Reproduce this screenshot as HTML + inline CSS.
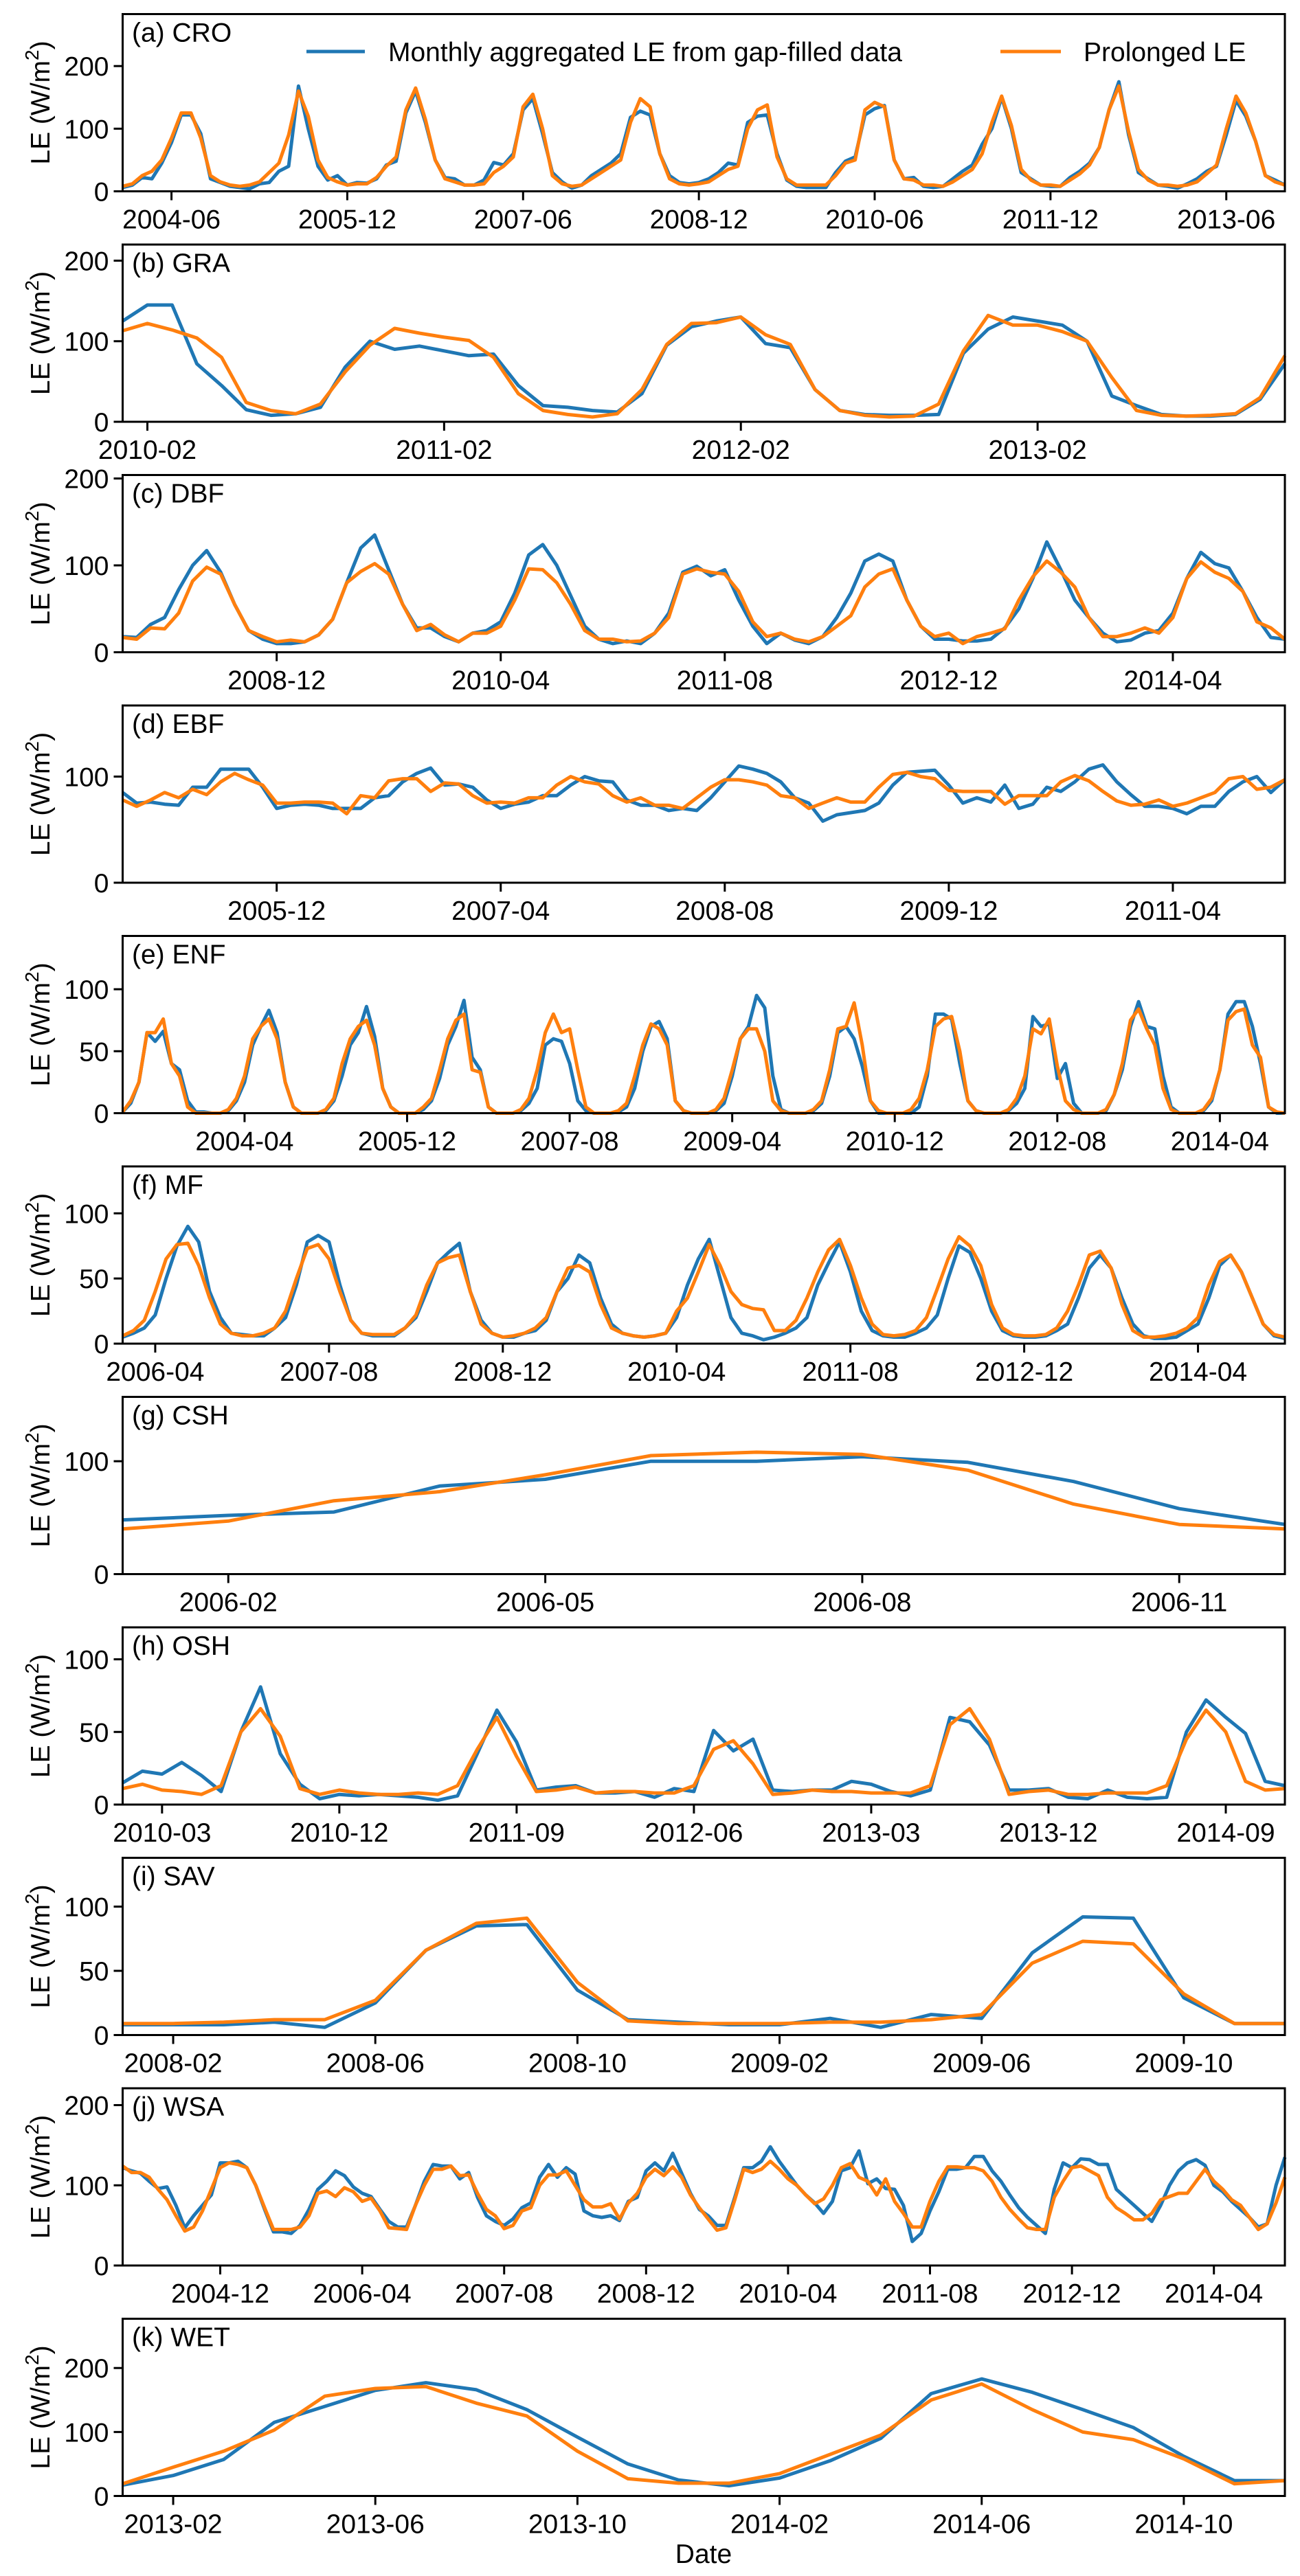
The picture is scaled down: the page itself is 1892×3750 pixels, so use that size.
<!DOCTYPE html>
<html><head><meta charset="utf-8"><style>
html,body{margin:0;padding:0;background:#fff}
svg{display:block;font-family:"Liberation Sans",Arial,sans-serif}
</style></head><body>
<svg id="chart" width="1892" height="3750" viewBox="0 0 1892 3750" xmlns="http://www.w3.org/2000/svg"></svg>
<script>
// ---------- data (per panel) ----------
const titles = ["(a) CRO","(b) GRA","(c) DBF","(d) EBF","(e) ENF","(f) MF","(g) CSH","(h) OSH","(i) SAV","(j) WSA","(k) WET"];
const startMonths = ["2004-01","2010-01","2008-01","2005-01","2003-01","2006-01","2006-01","2010-01","2008-01","2004-01","2013-01"];
const yMaxes = [283,220,204,167,143,136,157,122,138,221,277];
const yTicks = [[0,100,200],[0,100,200],[0,100,200],[0,100],[0,50,100],[0,50,100],[0,100],[0,50,100],[0,50,100],[0,100,200],[0,100,200]];
const xTickLabels = [
 ["2004-06","2005-12","2007-06","2008-12","2010-06","2011-12","2013-06"],
 ["2010-02","2011-02","2012-02","2013-02"],
 ["2008-12","2010-04","2011-08","2012-12","2014-04"],
 ["2005-12","2007-04","2008-08","2009-12","2011-04"],
 ["2004-04","2005-12","2007-08","2009-04","2010-12","2012-08","2014-04"],
 ["2006-04","2007-08","2008-12","2010-04","2011-08","2012-12","2014-04"],
 ["2006-02","2006-05","2006-08","2006-11"],
 ["2010-03","2010-12","2011-09","2012-06","2013-03","2013-12","2014-09"],
 ["2008-02","2008-06","2008-10","2009-02","2009-06","2009-10"],
 ["2004-12","2006-04","2007-08","2008-12","2010-04","2011-08","2012-12","2014-04"],
 ["2013-02","2013-06","2013-10","2014-02","2014-06","2014-10"]
];
const croBlue = [6,10,22,20,45,78,122,122,92,20,14,8, 6,4,12,14,32,40,168,100,40,18,25,10, 14,13,20,42,48,125,160,110,50,22,20,10, 10,18,46,42,60,130,148,92,30,15,5,10, 25,35,45,60,118,128,122,60,25,14,12,14, 20,30,45,42,110,120,122,60,18,8,6,6, 6,30,48,55,122,132,137,50,20,22,8,6, 8,20,32,42,75,100,150,100,30,20,10,8, 8,22,32,45,70,130,175,90,30,20,10,8, 5,12,20,32,40,90,145,120,80,25,18,10];
const croOrange = [8,12,25,32,50,85,125,125,85,25,15,10, 8,10,15,30,45,90,160,120,50,22,15,10, 12,12,22,40,55,130,165,115,50,20,15,10, 10,12,30,40,55,135,155,100,25,12,8,10, 20,30,40,50,110,148,135,60,20,12,10,12, 15,25,35,40,100,130,138,55,20,10,10,10, 10,25,45,50,130,142,135,50,20,18,10,10, 8,15,25,35,60,110,152,105,35,18,10,10, 8,18,28,42,70,130,168,95,35,18,10,10, 8,10,15,28,42,100,152,125,80,25,15,10];
const graBlue = [125,145,145,72,45,15,8,10,18,68,100,90, 94,88,82,84,45,20,18,14,12,35,95,118, 125,130,97,92,40,14,9,8,8,9,85,115, 130,125,120,100,32,20,9,7,7,9,28,72];
const graOrange = [113,122,114,104,80,24,14,10,22,62,95,116, 110,105,101,80,35,14,9,6,10,40,96,122, 123,130,108,96,40,14,8,6,7,22,88,132, 120,120,112,100,55,14,8,7,8,10,30,82];
const dbfBlue = [18,17,32,40,72,100,117,92,55,25,15,10, 10,12,20,38,80,120,135,95,55,28,28,18, 12,22,25,35,68,112,124,100,65,30,15,10, 13,10,22,45,92,99,88,95,60,30,10,22, 14,10,18,40,68,105,113,105,60,30,15,15, 13,13,15,28,50,85,127,95,60,40,22,12, 14,22,25,45,85,115,102,97,70,40,17,15];
const dbfOrange = [17,15,28,27,45,82,98,90,55,25,18,12, 14,12,20,38,80,93,102,90,55,25,32,20, 12,22,22,30,60,96,95,80,55,25,15,15, 12,13,22,40,90,96,92,90,70,35,18,22, 15,12,18,30,42,75,90,96,60,30,18,22, 10,18,22,27,60,87,105,92,75,40,18,18, 22,28,22,40,85,104,92,85,70,35,28,15];
const ebfBlue = [85,75,76,74,73,90,90,107,107,107,90,70, 73,74,73,70,70,70,80,82,95,103,108,92, 93,90,78,70,74,76,82,82,92,100,96,95, 78,73,73,68,70,68,80,95,110,107,103,95, 80,75,58,64,66,68,75,92,104,105,106,92, 75,80,76,92,70,74,90,86,95,107,111,95, 83,72,72,70,65,72,72,86,95,100,85,97];
const ebfOrange = [78,72,78,85,80,88,83,95,103,97,92,75, 75,76,76,75,65,82,80,96,98,98,86,94, 93,82,75,76,75,80,80,92,100,95,93,82, 76,80,73,73,70,80,90,97,97,95,92,82, 80,70,75,80,76,76,90,102,104,100,98,87, 86,86,86,74,82,82,82,95,101,96,86,77, 73,74,78,72,75,80,85,98,100,88,90,97];
const enfBlue = [1,8,25,65,58,66,40,35,10,1,1,0, 0,2,10,25,55,70,83,65,25,5,0,0, 0,2,10,30,55,65,86,62,20,5,0,0, 0,3,10,28,55,70,91,45,35,5,0,0, 0,2,8,20,55,60,58,40,10,2,0,0, 0,1,5,20,50,70,74,60,10,2,0,0, 0,2,8,30,60,70,95,85,30,3,0,0, 0,2,8,30,65,70,60,38,10,0,0,0, 0,0,5,30,80,80,76,40,10,2,0,0, 0,2,8,20,78,70,72,28,40,8,0,0, 0,2,15,35,70,90,70,68,30,5,0,0, 0,2,10,35,80,90,90,70,40,5,0,0];
const enfOrange = [1,10,25,65,65,76,40,30,5,0,0,0, 0,3,12,30,60,70,76,60,25,5,0,0, 0,3,12,40,60,70,75,55,20,5,0,0, 0,5,12,35,60,75,80,35,33,5,0,0, 0,3,12,35,65,80,65,68,35,5,0,0, 0,2,8,30,55,72,68,55,10,2,0,0, 0,3,12,35,60,68,68,50,10,2,0,0, 0,3,10,35,68,70,89,55,10,2,0,0, 0,3,12,35,70,76,78,50,10,2,0,0, 0,3,12,30,68,64,76,38,10,3,0,0, 0,3,15,40,75,84,68,55,20,3,0,0, 0,3,12,35,75,82,84,55,45,5,1,0];
const mfBlue = [5,8,12,22,50,75,90,78,40,20,8,7, 6,6,12,20,45,78,83,78,45,18,8,6, 6,6,12,20,40,62,70,77,40,18,8,5, 5,8,10,18,40,50,68,62,35,15,8,6, 5,6,8,20,45,65,80,50,20,8,6,3, 5,8,12,20,45,62,78,55,25,10,6,5, 5,8,12,22,50,75,70,50,25,10,6,5, 5,6,10,15,35,58,68,58,35,15,6,4, 4,5,10,15,35,60,68,55,35,15,6,4];
const mfOrange = [6,10,18,40,65,76,77,60,35,15,8,6, 6,8,12,25,50,73,76,65,40,18,8,7, 7,7,12,22,45,62,66,68,40,15,8,5, 6,8,12,20,40,58,60,55,30,12,8,6, 5,6,8,25,35,55,76,60,40,30,27,26, 10,10,18,35,55,72,80,60,35,15,7,6, 7,10,20,42,65,82,75,60,30,12,7,6, 6,7,12,25,45,68,71,58,30,10,5,5, 6,8,12,20,45,63,68,55,35,15,7,5];
const cshBlue = [48,52,55,78,84,100,100,104,99,82,58,44];
const cshOrange = [40,47,65,73,88,105,108,106,92,62,44,40];
const oshBlue = [15,23,21,29,20,9,50,81,35,14,4,7, 6,7,6,5,3,6,35,65,43,10,12,13, 8,8,9,5,11,9,51,37,45,10,9,10, 10,16,14,9,6,10,60,57,41,10,10,11, 5,4,10,5,4,5,50,72,60,49,16,13];
const oshOrange = [11,14,10,9,7,13,50,66,47,11,7,10, 8,7,7,8,7,13,38,60,33,9,10,12, 8,9,9,8,8,13,38,44,28,7,8,10, 9,9,8,8,8,13,55,66,45,7,9,10, 7,7,8,8,8,13,45,65,50,16,10,11];
const savBlue = [8,8,8,10,6,25,66,85,86,35,12,10, 8,8,13,6,16,13,64,92,91,29,9,9];
const savOrange = [9,9,10,12,12,27,66,87,91,41,11,9, 9,9,10,10,12,16,56,73,71,32,9,9];
const wsaBlue = [122,118,115,105,96,98,75,47,62,75,88,128, 128,130,122,100,70,42,42,40,50,70,95,105, 118,112,98,90,86,70,55,48,48,75,105,126, 124,124,108,116,85,62,55,50,58,72,78,110, 126,110,122,114,68,62,60,62,56,80,85,118, 128,118,140,115,90,70,62,50,50,85,122,122, 130,148,130,115,100,88,78,65,80,118,122,143, 102,108,96,95,75,30,40,68,92,120,120,122, 136,136,118,105,88,72,60,50,40,95,128,122, 133,132,126,126,95,85,75,65,55,75,100,118, 128,132,125,100,92,80,70,60,48,52,100,135];
const wsaOrange = [124,116,116,110,95,82,62,43,48,68,95,122, 128,126,122,100,72,45,45,45,48,62,90,93, 86,97,92,80,84,68,47,46,45,75,100,120, 120,124,112,113,90,70,62,46,50,68,72,100, 113,113,118,100,82,73,73,77,58,78,90,110, 120,112,123,110,88,72,58,44,47,82,120,116, 120,130,120,108,100,88,77,83,100,122,127,110, 105,88,108,80,65,48,48,80,105,123,123,122, 122,118,105,85,70,58,47,45,45,85,105,122, 124,118,112,85,72,65,57,57,65,82,86,90, 90,105,120,105,95,82,75,60,45,52,78,110];
const wetBlue = [17,32,57,115,140,165,177,166,135,92,50,25, 16,28,55,90,160,183,162,135,107,62,24,24];
const wetOrange = [19,45,70,103,156,168,171,145,125,70,27,20, 20,35,65,95,150,175,135,100,88,58,19,24];
const blueSeries = [croBlue,graBlue,dbfBlue,ebfBlue,enfBlue,mfBlue,cshBlue,oshBlue,savBlue,wsaBlue,wetBlue];
const orangeSeries = [croOrange,graOrange,dbfOrange,ebfOrange,enfOrange,mfOrange,cshOrange,oshOrange,savOrange,wsaOrange,wetOrange];

// ---------- layout ----------
const NS = "http://www.w3.org/2000/svg";
const svg = document.getElementById('chart');
const L = 178.5, R = 1870, H = 258, TOP0 = 20.5, STEP = 335.5;
function mk(tag, attrs, parent){ const e=document.createElementNS(NS,tag); for(const k in attrs) e.setAttribute(k,attrs[k]); (parent||svg).appendChild(e); return e; }
function monthIndex(s){ const p=s.split('-'); return (+p[0])*12 + (+p[1]) - 1; }

for (let i=0;i<titles.length;i++){
  const top = TOP0 + STEP*i, bot = top + H;
  const g = mk('g',{});
  
  
  const n = blueSeries[i].length;
  const m0 = monthIndex(startMonths[i]);
  const xs = m => L + (m - m0) * (R - L) / (n - 1);
  const ys = v => bot - v / yMaxes[i] * H;
  // series
  [[blueSeries[i],'#1f77b4','blue-series'],[orangeSeries[i],'#ff7f0e','orange-series']].forEach(([arr,col,nm])=>{
    const pts = arr.map((v,k)=> xs(m0+k).toFixed(1)+','+ys(v).toFixed(1)).join(' ');
    const pl = mk('polyline',{points:pts,fill:'none',stroke:col,'stroke-width':5,'stroke-linejoin':'round'},g);
    
    
  });
  // frame
  const fr = mk('rect',{x:L,y:top,width:R-L,height:H,fill:'none',stroke:'#000','stroke-width':3},g);
  
  
  // y ticks
  yTicks[i].forEach(v=>{
    const y = ys(v);
    mk('line',{x1:L-13,x2:L,y1:y,y2:y,stroke:'#000','stroke-width':3},g);
    const t = mk('text',{x:L-20,y:y+14,'font-size':39,'text-anchor':'end',fill:'#000'},g);
    t.textContent = v;
    
    
  });
  // x ticks
  xTickLabels[i].forEach(lab=>{
    const x = xs(monthIndex(lab));
    mk('line',{x1:x,x2:x,y1:bot,y2:bot+13,stroke:'#000','stroke-width':3},g);
    const t = mk('text',{x:x,y:bot+54,'font-size':39,'text-anchor':'middle',fill:'#000'},g);
    t.textContent = lab;
    
    
  });
  // panel title
  const tt = mk('text',{x:192,y:top+40,'font-size':39,fill:'#000'},g);
  tt.textContent = titles[i];
  
  
  // y axis label
  const cy = top + H/2;
  const yl = mk('text',{x:0,y:0,'font-size':39,'text-anchor':'middle',fill:'#000',transform:'translate(72,'+cy+') rotate(-90)'},g);
  yl.innerHTML = 'LE (W/m<tspan dy="-16" font-size="28">2</tspan><tspan dy="16">)</tspan>';
  
  
}
// legend
const lg = mk('g',{});


mk('line',{x1:446,x2:531,y1:75,y2:75,stroke:'#1f77b4','stroke-width':5},lg);
const lt1 = mk('text',{x:565,y:89,'font-size':39,fill:'#000'},lg);
lt1.textContent = 'Monthly aggregated LE from gap-filled data';


mk('line',{x1:1456,x2:1544,y1:75,y2:75,stroke:'#ff7f0e','stroke-width':5},lg);
const lt2 = mk('text',{x:1577,y:89,'font-size':39,fill:'#000'},lg);
lt2.textContent = 'Prolonged LE';


// x axis title
const xt = mk('text',{x:1024,y:3731,'font-size':39,'text-anchor':'middle',fill:'#000'});
xt.textContent = 'Date';


</script>
</body></html>
